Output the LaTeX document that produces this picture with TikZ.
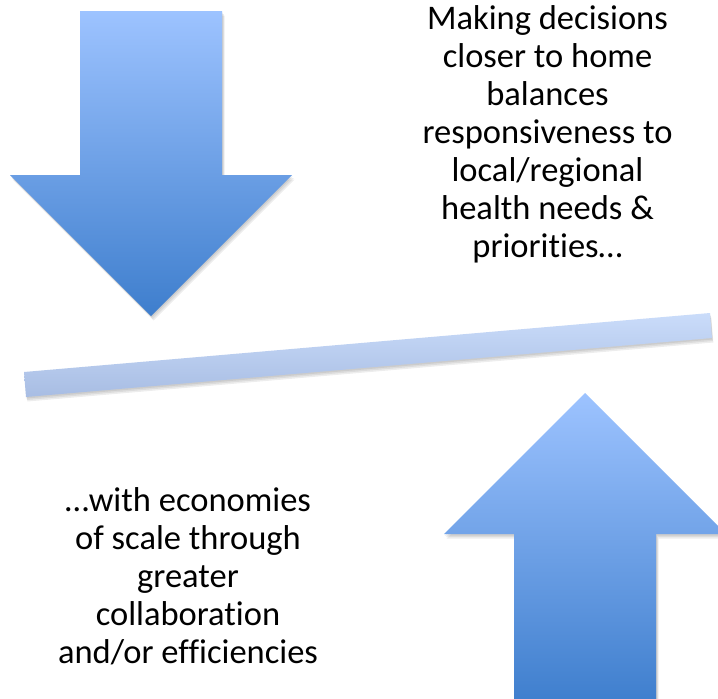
\documentclass[tikz,border=0pt]{standalone}
\usepackage{fontspec}
\setmainfont[Ligatures={NoCommon}]{Carlito}
\definecolor{arrowtop}{HTML}{9DC3FF}
\definecolor{arrowmid}{HTML}{7CA8EA}
\definecolor{arrowbot}{HTML}{3E7ECD}
\definecolor{bartop}{HTML}{CADCFA}
\definecolor{barbot}{HTML}{A8BDE3}
\begin{document}
\begin{tikzpicture}[x=1pt,y=-1pt,
  arrowshade/.style={top color=arrowtop, middle color=arrowmid, bottom color=arrowbot},
  barshade/.style={top color=bartop, bottom color=barbot},
  softshadow/.style={fill=black, opacity=0.07},
  lbl/.style={align=center, inner sep=0pt, anchor=north, text=black,
              font=\fontsize{34.5}{38}\selectfont}]
\useasboundingbox (0,0) rectangle (718,699);
\clip (0,0) rectangle (718,699);
\fill[white] (0,0) rectangle (718,699);

% shadows
\foreach \d in {1.5,3,4.5}{
  \fill[softshadow, shift={(\d*0.6,\d)}]
    (80,11) -- (222,11) -- (222,175) -- (292,175) -- (151,316) -- (10,175) -- (80,175) -- cycle;
  \fill[softshadow, shift={(\d*0.6,\d)}]
    (585,393) -- (726,534) -- (656,534) -- (656,705) -- (514,705) -- (514,534) -- (444,534) -- cycle;
  \fill[softshadow, shift={(\d*0.3,\d)}]
    (24,372) -- (710,313) -- (712,338) -- (26,397) -- cycle;
}

% down arrow
\shade[arrowshade]
  (80,11) -- (222,11) -- (222,175) -- (292,175) -- (151,316) -- (10,175) -- (80,175) -- cycle;
% up arrow
\shade[arrowshade]
  (585,393) -- (726,534) -- (656,534) -- (656,705) -- (514,705) -- (514,534) -- (444,534) -- cycle;
% balance bar
\shade[barshade]
  (24,372) -- (710,313) -- (712,338) -- (26,397) -- cycle;

\node[lbl] (top) at (547.5,5) {Making decisions\\closer to home\\balances\\responsiveness to\\local/regional\\health needs \&\\priorities…};
\node[lbl] (bottom) at (188,487) {…with economies\\of scale through\\greater\\collaboration\\and/or efficiencies};
\end{tikzpicture}
\end{document}
